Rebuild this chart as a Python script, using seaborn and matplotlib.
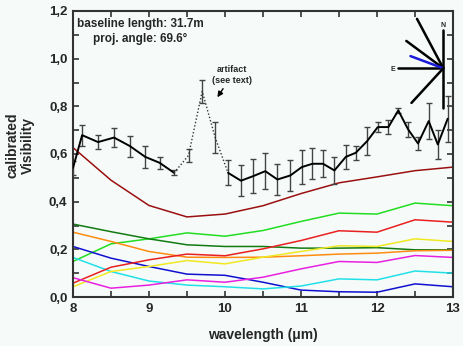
#!/usr/bin/env python3

import numpy as np
import pandas as pd
import matplotlib
matplotlib.use("Agg")
import matplotlib.pyplot as plt
import matplotlib.ticker as mticker
import seaborn as sns

# model curves, sampled every 0.5 micron
model_wl = [8.0, 8.5, 9.0, 9.5, 10.0, 10.5, 11.0, 11.5, 12.0, 12.5, 13.0]
darkred = [0.627, 0.49, 0.384, 0.336, 0.348, 0.383, 0.434, 0.479, 0.504, 0.53, 0.545]
green = [0.149, 0.223, 0.244, 0.269, 0.255, 0.279, 0.317, 0.352, 0.348, 0.394, 0.383]
darkgreen = [0.306, 0.274, 0.244, 0.219, 0.212, 0.212, 0.205, 0.205, 0.207, 0.198, 0.198]
orange = [0.272, 0.233, 0.191, 0.167, 0.166, 0.167, 0.173, 0.18, 0.184, 0.194, 0.196]
blue = [0.212, 0.163, 0.128, 0.096, 0.091, 0.062, 0.029, 0.022, 0.02, 0.055, 0.043]
cyan = [0.166, 0.107, 0.067, 0.05, 0.043, 0.034, 0.046, 0.076, 0.072, 0.109, 0.1]
red = [0.058, 0.125, 0.156, 0.18, 0.173, 0.202, 0.237, 0.278, 0.272, 0.324, 0.314]
yellow = [0.043, 0.107, 0.128, 0.153, 0.139, 0.167, 0.191, 0.215, 0.212, 0.244, 0.233]
magenta = [0.081, 0.037, 0.05, 0.072, 0.062, 0.083, 0.118, 0.149, 0.145, 0.174, 0.166]

models = {"darkred": darkred, "green": green, "darkgreen": darkgreen,
          "orange": orange, "blue": blue, "cyan": cyan, "red": red,
          "yellow": yellow, "magenta": magenta}
model_colors = {"darkred": "#9a1010", "green": "#22dd22", "darkgreen": "#127a12",
                "orange": "#ff8c10", "blue": "#1010d0", "cyan": "#22e0e8",
                "red": "#e82020", "yellow": "#f0e820", "magenta": "#e820e0"}

# measured visibility
vis_wl = [8.00, 8.12, 8.33, 8.54, 8.75, 8.95, 9.14, 9.33, 9.52, 9.70, 9.87,
          10.04, 10.21, 10.37, 10.53, 10.69, 10.86, 11.01, 11.15, 11.29, 11.44,
          11.59, 11.72, 11.87, 12.01, 12.15, 12.28, 12.41, 12.54, 12.68, 12.80, 12.93]
vis = [0.542, 0.679, 0.65, 0.669, 0.633, 0.588, 0.563, 0.521, 0.594, 0.863, 0.67,
       0.521, 0.488, 0.507, 0.528, 0.493, 0.51, 0.545, 0.559, 0.559, 0.531,
       0.588, 0.605, 0.654, 0.713, 0.713, 0.783, 0.703, 0.644, 0.738, 0.64, 0.748]
vis_err = [0.03, 0.044, 0.03, 0.04, 0.044, 0.045, 0.025, 0.01, 0.027, 0.047, 0.065,
           0.053, 0.065, 0.07, 0.075, 0.065, 0.065, 0.07, 0.065, 0.057, 0.055,
           0.05, 0.03, 0.058, 0.021, 0.03, 0.01, 0.03, 0.028, 0.074, 0.06, 0.096]
artifact_start, artifact_end = 7, 11   # indices of the dotted part

# projected baseline angles for the compass (deg, N through E)
compass_angles = [28, 53.5, 69.6, 137.4]
compass_len = [56, 46, 35, 47]
current_angle = 69.6

sns.set_style("ticks")
plt.rcParams["font.family"] = ["Liberation Sans", "DejaVu Sans"]
plt.rcParams["font.weight"] = "bold"
bg = "#f6fbf9"

fig = plt.figure(figsize=(4.63, 3.46), dpi=100, facecolor=bg)
ax = fig.add_axes([73 / 463, 49 / 346, 380 / 463, 286 / 346], facecolor=bg)

df = pd.DataFrame([(w, v, name) for name, vals in models.items()
                   for w, v in zip(model_wl, vals)],
                  columns=["wl", "V", "model"])
sns.lineplot(data=df, x="wl", y="V", hue="model", palette=model_colors,
             linewidth=1.1, legend=False, ax=ax)

wl = np.array(vis_wl)
v = np.array(vis)
e = np.array(vis_err)
ax.errorbar(wl, v, yerr=e, fmt="none", ecolor="#444444", elinewidth=1.0,
            capsize=2.5, capthick=1.0, zorder=4)
ax.plot(wl[:artifact_start + 1], v[:artifact_start + 1], color="black", lw=1.4, zorder=5)
ax.plot(wl[artifact_end:], v[artifact_end:], color="black", lw=1.4, zorder=5)
ax.plot(wl[artifact_start:artifact_end + 1], v[artifact_start:artifact_end + 1],
        color="#333333", lw=1.0, ls=(0, (1, 1.5)), zorder=5)

ax.set_xlim(8, 13)
ax.set_ylim(0, 1.2)
ax.xaxis.set_major_locator(mticker.MultipleLocator(1))
ax.xaxis.set_minor_locator(mticker.MultipleLocator(0.5))
ax.yaxis.set_major_locator(mticker.MultipleLocator(0.2))
ax.yaxis.set_minor_locator(mticker.MultipleLocator(0.1))
ax.yaxis.set_major_formatter(mticker.FuncFormatter(lambda y, p: f"{y:.1f}".replace(".", ",")))
ax.tick_params(which="both", direction="in", top=True, right=True,
               length=4, width=1.2, color="#333333", labelsize=9.5, pad=4)
for lab in ax.get_xticklabels() + ax.get_yticklabels():
    lab.set_fontweight("bold")
for s in ax.spines.values():
    s.set_linewidth(1.5)
    s.set_color("#333333")

ax.set_xlabel("wavelength (\u03bcm)", fontsize=10, fontweight="bold", labelpad=10)
ax.set_ylabel("calibrated\nVisibility", fontsize=10, fontweight="bold",
              linespacing=1.1)
ax.yaxis.set_label_coords(-0.10, 0.53)

ax.text(8.88, 1.145, "baseline length: 31.7m", ha="center", va="center",
        fontsize=8.5, fontweight="bold")
ax.text(8.88, 1.082, "proj. angle: 69.6\u00b0", ha="center", va="center",
        fontsize=8.5, fontweight="bold")
ax.annotate("artifact\n(see text)", xy=(9.90, 0.838), xytext=(10.09, 0.93),
            ha="center", va="center", fontsize=6.5, fontweight="bold",
            linespacing=1.3,
            arrowprops=dict(arrowstyle="-|>", color="black", lw=1.0,
                            shrinkA=9, shrinkB=0, mutation_scale=8))

# compass inset, units are pixels around the centre
cax = ax.inset_axes([310 / 380, 182 / 286, 70 / 380, 100 / 286])
cax.set_xlim(-60.3, 9.7)
cax.set_ylim(-46.7, 53.3)
cax.axis("off")
cax.plot([0, 0], [-40, 38], color="black", lw=1.8)
cax.plot([0, -45], [0, 0], color="black", lw=1.8)
for ang, ln in zip(compass_angles, compass_len):
    t = np.deg2rad(ang)
    col = "#1a1ad8" if ang == current_angle else "black"
    cax.plot([0, -ln * np.sin(t)], [0, ln * np.cos(t)], color=col, lw=1.8)
cax.text(0, 43, "N", ha="center", va="center", fontsize=5, fontweight="bold")
cax.text(-50.6, -1.5, "E", ha="center", va="center", fontsize=5, fontweight="bold")

fig.savefig("out.png", dpi=100, facecolor=bg)
